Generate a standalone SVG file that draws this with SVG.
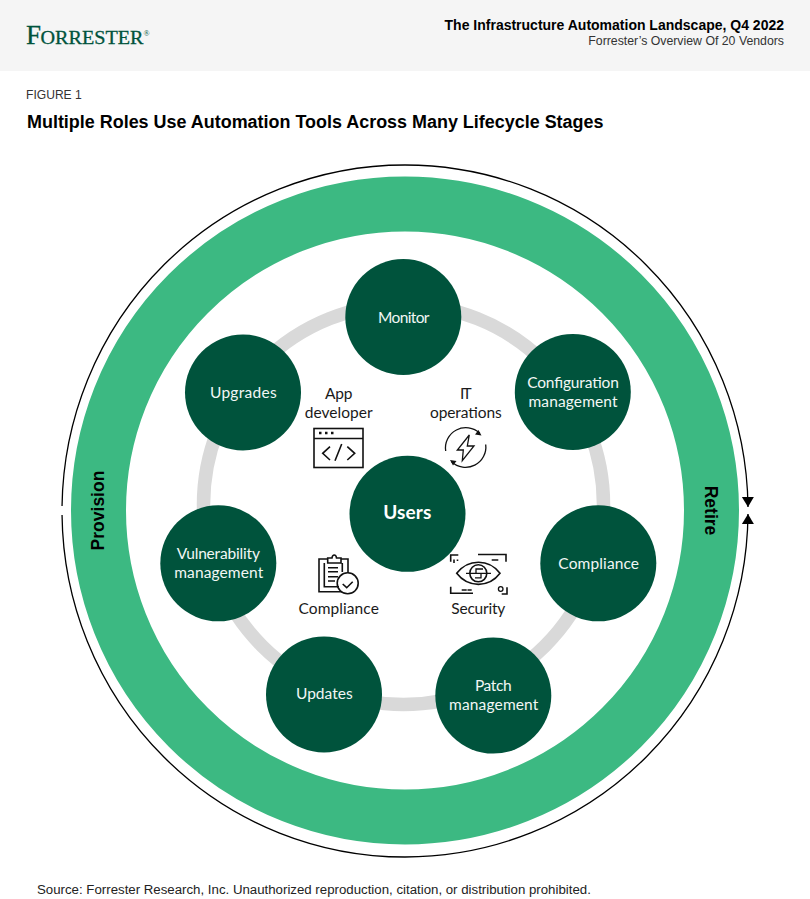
<svg xmlns="http://www.w3.org/2000/svg" width="810" height="899" viewBox="0 0 810 899">
<style>
.s{font-family:"Liberation Sans",Arial,sans-serif}
.n{fill:#00533c}
.nt{font-family:Lato,"Open Sans",sans-serif;font-size:15.5px;fill:#f2f7f5;text-anchor:middle}
.rt{font-family:Lato,"Open Sans",sans-serif;font-size:15.5px;fill:#1a1a1a;text-anchor:middle}
.i{fill:none;stroke:#111;stroke-width:1.6}
.t{fill:none;stroke:#111;stroke-width:1.3}
</style>
<defs><marker id="a" markerWidth="12" markerHeight="14" refX="10" refY="6.500" orient="auto" markerUnits="userSpaceOnUse"><path d="M0 0.500L10 6.500L0 12.500Z" fill="#000"/></marker></defs>
<rect width="810" height="899" fill="#fff"/>
<rect width="810" height="71" fill="#f5f5f5"/>
<g id="logo" font-family="Liberation Serif,serif" fill="#00533c" stroke="#00533c" stroke-width="0.300"><text x="26" y="43.500" font-size="27">F</text><text x="40.500" y="43.500" font-size="19" textLength="103" lengthAdjust="spacingAndGlyphs">ORRESTER</text><text x="143.500" y="36" font-size="8" stroke="none">®</text></g>
<text x="784" y="30" class="s" font-size="14" font-weight="700" text-anchor="end" fill="#000">The Infrastructure Automation Landscape, Q4 2022</text>
<text x="784" y="45" class="s" font-size="12.300" text-anchor="end" fill="#333">Forrester’s Overview Of 20 Vendors</text>
<text x="26" y="99" class="s" font-size="12.100" fill="#333">FIGURE 1</text>
<text x="27" y="128" class="s" font-size="17.940" font-weight="700" fill="#000">Multiple Roles Use Automation Tools Across Many Lifecycle Stages</text>
<text x="37" y="894" class="s" font-size="13.250" fill="#222">Source: Forrester Research, Inc. Unauthorized reproduction, citation, or distribution prohibited.</text>
<g id="connectors">
<ellipse cx="405" cy="510.500" rx="306.500" ry="306.500" fill="none" stroke="#3cb982" stroke-width="55"/>
<circle cx="403.500" cy="504.500" r="200" fill="none" stroke="#d9d9d9" stroke-width="13.500"/>
<path d="M62.040 506A343 346 0 0 1 405 165A343 346 0 0 1 748 507" fill="none" stroke="#000" stroke-width="1.300" marker-end="url(#a)"/>
<path d="M62.040 515A343 346 0 0 0 405 857A343 346 0 0 0 748 514" fill="none" stroke="#000" stroke-width="1.300" marker-end="url(#a)"/>
</g>
<g id="ring-labels" class="s" font-size="17.500" font-weight="700" fill="#000">
<text transform="translate(104 510.500) rotate(-90)" text-anchor="middle">Provision</text>
<text transform="translate(705 510.500) rotate(90)" text-anchor="middle">Retire</text>
</g>
<g id="monitor"><circle class="n" cx="403.300" cy="317" r="58"/><text class="nt" x="403.700" y="322.500" textLength="51.500">Monitor</text></g>
<g id="configuration"><circle class="n" cx="572.800" cy="392" r="58"/><text class="nt" x="573" y="388" textLength="91.700">Configuration</text><text class="nt" x="573" y="407" textLength="89">management</text></g>
<g id="compliance-stage"><circle class="n" cx="598.300" cy="563.300" r="58"/><text class="nt" x="598.700" y="569" textLength="80.700">Compliance</text></g>
<g id="patch"><circle class="n" cx="493.300" cy="695.600" r="58"/><text class="nt" x="493.300" y="691" textLength="36.700">Patch</text><text class="nt" x="493.700" y="710" textLength="89.300">management</text></g>
<g id="updates"><circle class="n" cx="324" cy="694.400" r="58"/><text class="nt" x="324.300" y="699.300" textLength="56.700">Updates</text></g>
<g id="vulnerability"><circle class="n" cx="218.300" cy="563.300" r="58"/><text class="nt" x="218.300" y="559.300" textLength="83.300">Vulnerability</text><text class="nt" x="218.700" y="578.300" textLength="89">management</text></g>
<g id="upgrades"><circle class="n" cx="243" cy="392.500" r="58"/><text class="nt" x="243.300" y="397.700" textLength="66.700">Upgrades</text></g>
<g id="users"><circle class="n" cx="407.500" cy="513.800" r="58"/><text x="407.300" y="519.300" text-anchor="middle" font-family="Lato,sans-serif" font-size="19px" font-weight="700" fill="#fff" textLength="48.300">Users</text></g>
<g id="role-app"><text class="rt" x="338.700" y="399.300" textLength="27.300">App</text><text class="rt" x="338.700" y="418.300" textLength="67.700">developer</text>
<rect class="i" x="314" y="428.500" width="49" height="39"/><path class="i" d="M314 438.500H363"/><path d="M319 433h2.500M325 433h2.500M331 433h2.500" stroke="#111" stroke-width="2.500"/><path class="i" d="M330 446.700l-7.300 6.600 7.300 6.700M347.300 446.700l7.400 6.600-7.400 6.700M341.700 444l-6.700 16.700"/></g>
<g id="role-it"><text class="rt" x="465.800" y="399.300" textLength="11.700">IT</text><text class="rt" x="465.800" y="418.300" textLength="71.700">operations</text>
<path class="t" d="M445.700 451A20.300 20.300 0 0 1 479.800 433.300M485.700 444.500A20.300 20.300 0 0 1 451.600 461.800"/><path d="M481.500 435.500l-6.500-1 3.500-4.500zM450 460l6.500 1-3.500 4.500z" fill="#111"/><path class="t" d="M469.300 435L457.300 450H463.300L462.300 460.700L474 446H467.300Z"/></g>
<g id="role-compliance"><path class="i" d="M342 591.700H319V559H327.700M341 559H348V573M327.700 563V558H332C332.500 554 336 554 336.500 558H341V563ZM324.300 563V586.700H339M342.300 563V572M328 567.700H338M328 571.700H338M328 576.700H338M328 581H335"/><circle class="i" cx="347.700" cy="583.300" r="10.500"/><path class="i" d="M342.700 584l4 3.700 6-6"/><text class="rt" x="338.700" y="614.300" textLength="80.300">Compliance</text></g>
<g id="role-security"><path class="i" d="M450.700 561.700V555H458.300M478 554.500H506V561.700M450.700 586.700V593.300H473M507 587.300V594H501.700M491.700 560H498.300M461.700 590H466.700M467.500 590H471.700M454 559.500V563M457.500 559.500V561"/><path class="i" d="M456.700 573.300C468 558.500 489 558.500 500 573.300C489 588 468 588 456.700 573.300Z"/><circle class="i" cx="478.300" cy="573.300" r="8.500"/><path class="t" d="M466 573.300H491M483 569h-7v4.300h5v4.500h-6"/><circle class="t" cx="500.700" cy="589" r="2.300"/><text class="rt" x="478.300" y="614.300" textLength="54">Security</text></g>
</svg>
